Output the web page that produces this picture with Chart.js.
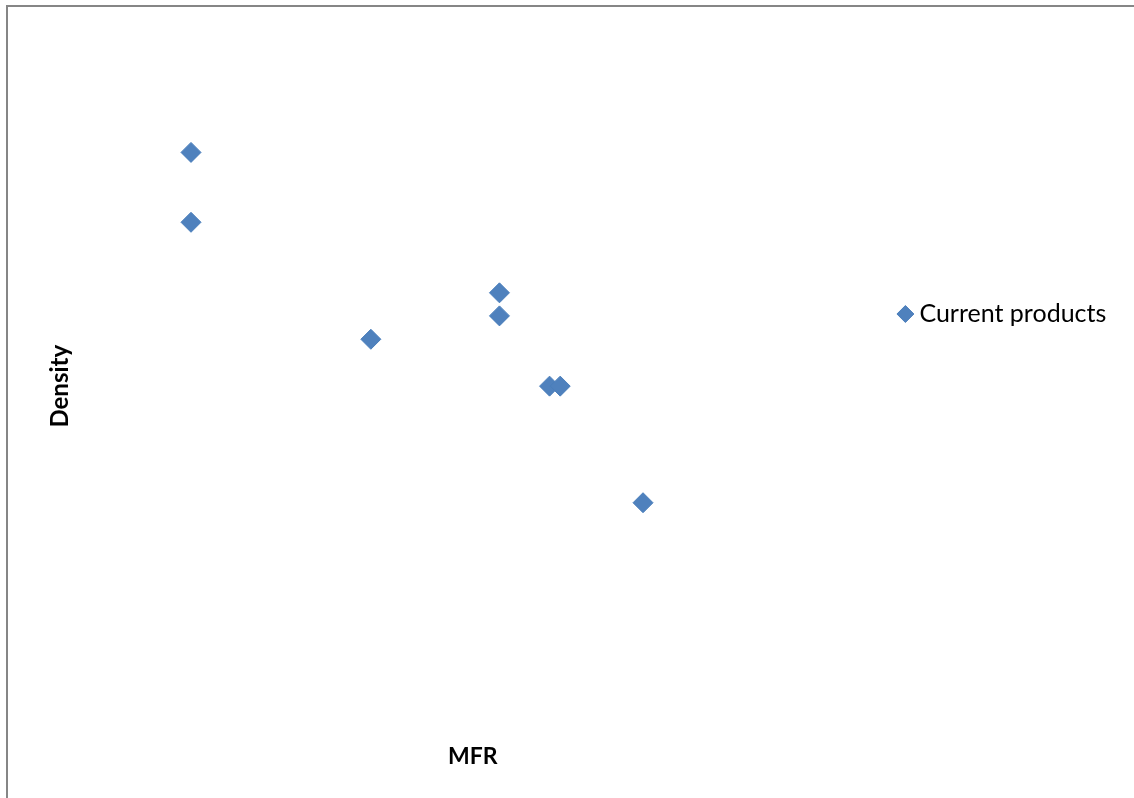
<!DOCTYPE html>
<html>
<head>
<meta charset="utf-8">
<script src="https://cdn.jsdelivr.net/npm/chart.js@4/dist/chart.umd.min.js"></script>
<style>
  html, body { margin: 0; padding: 0; background: #fff; }
  #wrap { width: 1134px; height: 798px; position: relative; }
</style>
</head>
<body>
<div id="wrap"><canvas id="scatter"></canvas></div>
<script>
// MFR vs density of the current products
const mfrValues = [1.350, 1.350, 5.346, 5.346, 3.680, 5.995, 6.133, 7.206];
const densityValues = [8.192, 7.238, 6.275, 5.960, 5.641, 5.001, 5.001, 3.409];
const seriesName = 'Current products';

const points = mfrValues.map((x, i) => ({ x: x, y: densityValues[i] }));

// grey frame of the chart object (cropped on right and bottom)
const framePlugin = {
  id: 'frame',
  beforeDraw(chart) {
    const ctx = chart.ctx;
    ctx.save();
    ctx.strokeStyle = '#868686';
    ctx.lineWidth = 2;
    ctx.strokeRect(7, 6, chart.width + 20, chart.height + 20);
    ctx.restore();
  }
};

const ctx = document.getElementById('scatter').getContext('2d');
const scatterChart = new Chart(ctx, {
  type: 'scatter',
  data: {
    datasets: [{
      label: seriesName,
      data: points,
      pointStyle: 'rectRot',
      pointRadius: 10,
      pointHoverRadius: 10,
      backgroundColor: '#4F81BD',
      borderColor: '#4A7EBB',
      borderWidth: 1
    }]
  },
  options: {
    responsive: true,
    maintainAspectRatio: false,
    animation: false,
    layout: { padding: { left: 42, top: 20, right: 17.7, bottom: 24 } },
    plugins: {
      legend: {
        position: 'right',
        align: 'start',
        title: { display: true, text: ' ', padding: { top: 221.9, bottom: 0 } },
        labels: {
          usePointStyle: true,
          boxWidth: 3,
          boxHeight: 12,
          padding: 45.2,
          color: '#000',
          font: { family: 'Lato', size: 25 }
        }
      },
      tooltip: { enabled: false }
    },
    scales: {
      x: {
        min: 0,
        max: 10,
        grid: { display: false },
        border: { display: false },
        ticks: { display: false },
        title: {
          display: true, text: 'MFR', color: '#000',
          padding: { top: -18, bottom: 4 },
          font: { family: 'Lato', size: 23, weight: 'bold' }
        }
      },
      y: {
        min: 0,
        max: 10,
        grid: { display: false },
        border: { display: false },
        ticks: { display: false },
        title: { display: true, text: 'Density', color: '#000', font: { family: 'Lato', size: 24, weight: 'bold' } }
      }
    }
  },
  plugins: [framePlugin]
});
</script>
</body>
</html>
